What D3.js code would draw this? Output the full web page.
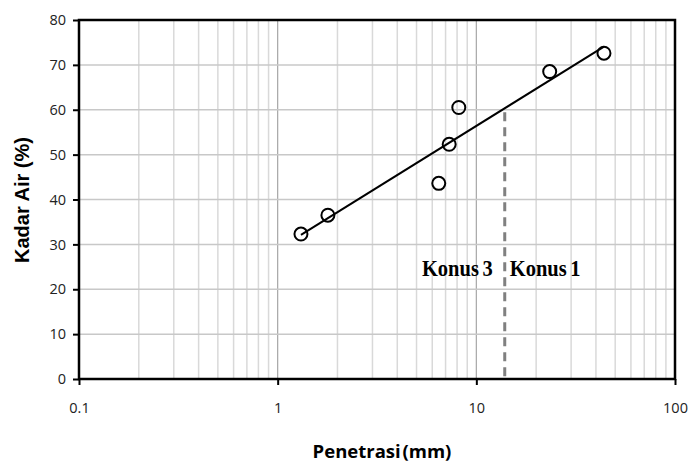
<!DOCTYPE html>
<html>
<head>
<meta charset="utf-8">
<script src="https://cdn.jsdelivr.net/npm/d3@7"></script>
<style>
  body { margin: 0; background: #fff; }
  svg { display: block; }
</style>
</head>
<body>
<script>
const penetrasi = [1.31, 1.79, 6.47, 7.3, 8.16, 23.4, 43.9];
const kadarAir = [32.3, 36.5, 43.6, 52.3, 60.5, 68.5, 72.6];
const xTicks = [0.1, 1, 10, 100];
const yTicks = [0, 10, 20, 30, 40, 50, 60, 70, 80];
const batasKonus = 13.9;
const labelKonus = ["Konus 3", "Konus 1"];

const width = 689, height = 464;
const margin = {top: 20, right: 14, bottom: 85, left: 79};

const svg = d3.select("body").append("svg")
  .attr("width", width)
  .attr("height", height);

const x = d3.scaleLog().domain([0.1, 100]).range([margin.left, width - margin.right]);
const y = d3.scaleLinear().domain([0, 80]).range([height - margin.bottom, margin.top]);

// minor vertical grid
const minor = [];
[0.1, 1, 10].forEach(d => { for (let k = 2; k <= 9; k++) minor.push(d * k); });
svg.append("g").selectAll("line").data(minor).enter().append("line")
  .attr("x1", d => x(d)).attr("x2", d => x(d))
  .attr("y1", y(0)).attr("y2", y(80))
  .attr("stroke", "#d9d9d9").attr("stroke-width", 1.5);

svg.append("g").selectAll("line").data([1, 10]).enter().append("line")
  .attr("x1", d => x(d)).attr("x2", d => x(d))
  .attr("y1", y(0)).attr("y2", y(80))
  .attr("stroke", "#a6a6a6").attr("stroke-width", 1.2);

svg.append("g").selectAll("line").data(yTicks.slice(1, -1)).enter().append("line")
  .attr("x1", x(0.1)).attr("x2", x(100))
  .attr("y1", d => y(d)).attr("y2", d => y(d))
  .attr("stroke", "#c8c8c8").attr("stroke-width", 1.5);

// regression y = a + b*log10(x)
const L = penetrasi.map(Math.log10);
const mL = d3.mean(L), mY = d3.mean(kadarAir);
const b = d3.sum(L, (l, i) => (l - mL) * (kadarAir[i] - mY)) / d3.sum(L, l => (l - mL) ** 2);
const a = mY - b * mL;
const fit = v => a + b * Math.log10(v);

// dashed boundary
svg.append("line")
  .attr("x1", x(batasKonus)).attr("x2", x(batasKonus))
  .attr("y1", y(fit(batasKonus)) + 4).attr("y2", y(0) + 3)
  .attr("stroke", "#808080").attr("stroke-width", 3)
  .attr("stroke-dasharray", "9,6");

// axes
const xAxis = d3.axisBottom(x).tickValues(xTicks).tickFormat(d => d).tickSize(6).tickPadding(18);
const yAxis = d3.axisLeft(y).tickValues(yTicks).tickSize(6).tickPadding(7);

const gx = svg.append("g").attr("transform", `translate(0,${y(0)})`).call(xAxis);
const gy = svg.append("g").attr("transform", `translate(${x(0.1)},0)`).call(yAxis);
[gx, gy].forEach(g => {
  g.select(".domain").remove();
  g.selectAll(".tick line").attr("stroke", "#000").attr("stroke-width", 2);
  g.selectAll("text").attr("font-family", "Open Sans, sans-serif").attr("font-size", 14.5).attr("fill", "#222");
});

svg.append("rect")
  .attr("x", x(0.1)).attr("y", y(80))
  .attr("width", x(100) - x(0.1)).attr("height", y(0) - y(80))
  .attr("fill", "none").attr("stroke", "#000").attr("stroke-width", 2.5);

// trendline
const xs = d3.extent(penetrasi);
svg.append("line")
  .attr("x1", x(xs[0])).attr("y1", y(fit(xs[0])))
  .attr("x2", x(xs[1])).attr("y2", y(fit(xs[1])))
  .attr("stroke", "#000").attr("stroke-width", 2);

svg.append("g").selectAll("circle").data(penetrasi).enter().append("circle")
  .attr("cx", d => x(d))
  .attr("cy", (d, i) => y(kadarAir[i]))
  .attr("r", 6.5)
  .attr("fill", "none").attr("stroke", "#000").attr("stroke-width", 2);

// konus labels
const konusFont = g => g
  .attr("font-family", "Liberation Serif, serif").attr("font-weight", "bold")
  .attr("font-size", 20.5).attr("word-spacing", -1.5);
svg.append("text").text(labelKonus[0])
  .attr("transform", `translate(${x(batasKonus) - 12},276) scale(1,1.15)`)
  .attr("text-anchor", "end")
  .call(konusFont);
svg.append("text").text(labelKonus[1])
  .attr("transform", `translate(${x(batasKonus) + 5},276) scale(1,1.15)`)
  .call(konusFont);

// axis titles
svg.append("text").text("Penetrasi (mm)")
  .attr("x", 382).attr("y", 458)
  .attr("text-anchor", "middle").attr("word-spacing", -3)
  .attr("font-family", "Open Sans, sans-serif").attr("font-weight", "bold").attr("font-size", 18.5);
svg.append("text").text("Kadar Air (%)")
  .attr("transform", `translate(29,200) rotate(-90)`)
  .attr("text-anchor", "middle")
  .attr("font-family", "Liberation Sans, Arial, sans-serif").attr("font-weight", "bold").attr("font-size", 20);
</script>
</body>
</html>
